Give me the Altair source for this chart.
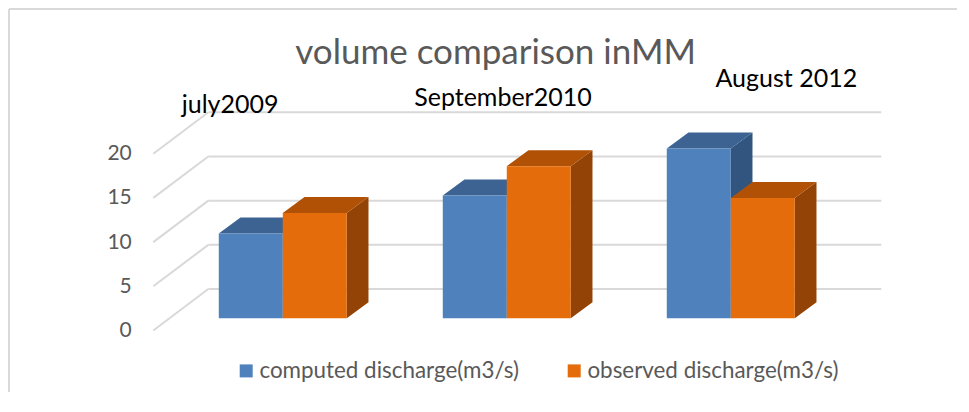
import altair as alt
import pandas as pd

# ---------------- data ----------------
categories = ["july2009", "September2010", "August 2012"]
series_names = ["computed discharge(m3/s)", "observed discharge(m3/s)"]
computed = [9.6, 13.9, 19.2]
observed = [11.9, 17.2, 13.6]
grid_values = [0, 5, 10, 15, 20]
title_text = "volume comparison inMM"

# ---------------- layout (axis units) ----------------
X_MIN, X_MAX = -0.578, 2.672        # x in category units
Y_MIN, Y_MAX = 0, 25                # y in value units (front plane)
PLOT_W, PLOT_H = 728, 221
PAD_L, PAD_T = 145.3, 101.5
TOTAL_W, TOTAL_H = 953, 384
WALL_DU, WALL_DV = 0.2455, 4.69     # depth of the 3D box
BAR_W = 0.2857
BASE_V = 1.38                       # bar front baseline above front floor edge
DEPTH_DU, DEPTH_DV = 0.0969, 1.81   # depth of each bar
label_dx = [-0.235, -0.017, 0.248]
label_y = [24.58, 25.4, 27.51]
TITLE_X, TITLE_Y = 0.95, 30.2

FONT = "Lato"
GRAY = "#595959"
front_colors = ["#4f81bd", "#e46c0a"]
top_colors = ["#3c6391", "#b05105"]
side_colors = ["#32557f", "#924305"]

xs = alt.Scale(domain=[X_MIN, X_MAX], nice=False, zero=False)
ys = alt.Scale(domain=[Y_MIN, Y_MAX], nice=False, zero=False)
yaxis = alt.Axis(values=grid_values, domain=False, ticks=False, grid=False,
                 labelPadding=22, labelFont=FONT, labelFontSize=21,
                 labelColor=GRAY, title=None)

rows_front, rows_top, rows_side = [], [], []
for i, cat in enumerate(categories):
    for s, vals in enumerate([computed, observed]):
        v = vals[i]
        x0 = i - BAR_W + s * BAR_W
        x1 = x0 + BAR_W
        top = BASE_V + v
        name = series_names[s]
        bar = f"{i}-{s}"
        rows_front.append(dict(series=name, bar=bar, x0=x0, x1=x1, y0=BASE_V, y1=top))
        rows_top.append(dict(series=name, bar=bar, y=top, xa=x0, xb=x1))
        rows_top.append(dict(series=name, bar=bar, y=top + DEPTH_DV,
                             xa=x0 + DEPTH_DU, xb=x1 + DEPTH_DU))
        rows_side.append(dict(series=name, bar=bar, x=x1, ya=BASE_V, yb=top))
        rows_side.append(dict(series=name, bar=bar, x=x1 + DEPTH_DU,
                              ya=BASE_V + DEPTH_DV, yb=top + DEPTH_DV))

df_front = pd.DataFrame(rows_front)
df_top = pd.DataFrame(rows_top)
df_side = pd.DataFrame(rows_side)

df_back = pd.DataFrame({"v": grid_values})
df_back["y"] = df_back["v"] + WALL_DV
df_back["x"] = X_MIN + WALL_DU
df_back["x2"] = X_MAX

df_diag = pd.DataFrame({"v": grid_values})
df_diag["x"] = X_MIN
df_diag["x2"] = X_MIN + WALL_DU
df_diag["y"] = df_diag["v"]
df_diag["y2"] = df_diag["v"] + WALL_DV

df_labels = pd.DataFrame({
    "cat": categories,
    "x": [i + label_dx[i] for i in range(len(categories))],
    "y": label_y,
})
df_title = pd.DataFrame({"t": [title_text], "x": [TITLE_X], "y": [TITLE_Y]})

GRID = "#d9d9d9"
one = pd.DataFrame({"a": [0]})

# chart frame (left and top edges only, kept inside the drawing)
frame_left = alt.Chart(one).mark_rule(color=GRID, strokeWidth=2).encode(
    x=alt.value(1 - PAD_L), y=alt.value(1 - PAD_T), y2=alt.value(TOTAL_H - PAD_T),
)
frame_top = alt.Chart(one).mark_rule(color=GRID, strokeWidth=2).encode(
    x=alt.value(1 - PAD_L), x2=alt.value(TOTAL_W - PAD_L - 4), y=alt.value(1 - PAD_T),
)

back = alt.Chart(df_back).mark_rule(color=GRID, strokeWidth=2).encode(
    x=alt.X("x:Q", scale=xs, axis=None),
    x2="x2:Q",
    y=alt.Y("y:Q", scale=ys, axis=yaxis),
)

diag = alt.Chart(df_diag).mark_rule(color=GRID, strokeWidth=2).encode(
    x=alt.X("x:Q", scale=xs, axis=None),
    x2="x2:Q",
    y=alt.Y("y:Q", scale=ys, axis=yaxis),
    y2="y2:Q",
)

side = alt.Chart(df_side).mark_area(orient="vertical", opacity=1).encode(
    x=alt.X("x:Q", scale=xs, axis=None),
    y=alt.Y("ya:Q", scale=ys, axis=yaxis, stack=None),
    y2="yb:Q",
    detail="bar:N",
    color=alt.Color("series:N", scale=alt.Scale(domain=series_names, range=side_colors), legend=None),
)

topf = alt.Chart(df_top).mark_area(orient="horizontal", opacity=1).encode(
    y=alt.Y("y:Q", scale=ys, axis=yaxis),
    x=alt.X("xa:Q", scale=xs, axis=None, stack=None),
    x2="xb:Q",
    detail="bar:N",
    color=alt.Color("series:N", scale=alt.Scale(domain=series_names, range=top_colors), legend=None),
)

front = alt.Chart(df_front).mark_rect(opacity=1).encode(
    x=alt.X("x0:Q", scale=xs, axis=None),
    x2="x1:Q",
    y=alt.Y("y0:Q", scale=ys, axis=yaxis),
    y2="y1:Q",
    color=alt.Color("series:N", scale=alt.Scale(domain=series_names, range=front_colors),
                    legend=alt.Legend(
                        orient="none", legendX=81.7, legendY=250, direction="horizontal",
                        title=None, symbolType="square", symbolSize=169,
                        symbolStrokeWidth=0, symbolOpacity=1,
                        labelFont=FONT, labelFontSize=22.4, labelColor=GRAY,
                        labelOffset=2, columnPadding=44, padding=0,
                        labelLimit=400)),
)

labels = alt.Chart(df_labels).mark_text(
    font=FONT, fontSize=25, color="black", align="center", baseline="alphabetic"
).encode(
    x=alt.X("x:Q", scale=xs, axis=None),
    y=alt.Y("y:Q", scale=ys, axis=yaxis),
    text="cat:N",
)

title = alt.Chart(df_title).mark_text(
    font=FONT, fontSize=35, color=GRAY, align="center", baseline="alphabetic"
).encode(
    x=alt.X("x:Q", scale=xs, axis=None),
    y=alt.Y("y:Q", scale=ys, axis=yaxis),
    text="t:N",
)

chart = alt.layer(frame_left, frame_top, back, diag, side, topf, front, labels, title).resolve_scale(
    color="independent"
).properties(
    width=PLOT_W, height=PLOT_H,
    autosize=alt.AutoSizeParams(type="none"),
    padding={"left": PAD_L, "top": PAD_T, "right": TOTAL_W - PAD_L - PLOT_W,
             "bottom": TOTAL_H - PAD_T - PLOT_H},
).configure_view(stroke=None)

chart.save("out.html", embed_options={"renderer": "svg", "actions": False})
